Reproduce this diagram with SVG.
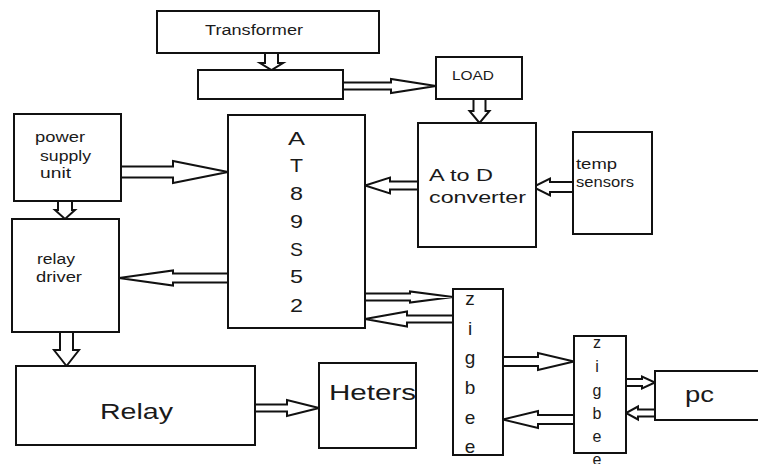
<svg xmlns="http://www.w3.org/2000/svg" width="758" height="464" viewBox="0 0 758 464">
<style>
.box{fill:#fff;stroke:#111;stroke-width:2}
.arr{fill:#fff;stroke:#111;stroke-width:2;stroke-linejoin:miter}
.t{font-family:"Liberation Sans",Arial,sans-serif;fill:#1a1a1a}
.c{text-anchor:middle}
</style>
<rect width="758" height="464" fill="#fff"/>
<g id="connectors">
<polygon class="arr" points="265,53 278,53 278,63 283,63 271.5,70 260,63 265,63"/>
<polygon class="arr" points="343,82.5 391,82.5 391,79 436,86 391,93 391,89.5 343,89.5"/>
<polygon class="arr" points="473.5,99 485.5,99 485.5,111 489.5,111 479.5,123 469.5,111 473.5,111"/>
<polygon class="arr" points="573,182 550,182 550,178.5 533,187 550,195.5 550,192 573,192"/>
<polygon class="arr" points="418,181.5 390,181.5 390,177.5 365,185.5 390,193.5 390,189.5 418,189.5"/>
<polygon class="arr" points="121,166.5 173,166.5 173,161 228,172 173,183 173,177.5 121,177.5"/>
<polygon class="arr" points="58,201 72,201 72,210 75,210 65,219 55,210 58,210"/>
<polygon class="arr" points="228,273.5 173,273.5 173,270.5 119,278 173,285.5 173,282.5 228,282.5"/>
<polygon class="arr" points="60,332 73,332 73,350 79,350 66.5,366 54,350 60,350"/>
<polygon class="arr" points="255,404.5 287,404.5 287,400 319,408 287,416 287,411.5 255,411.5"/>
<polygon class="arr" points="365,293.5 410,293.5 410,291.5 453,297 410,302.5 410,300.5 365,300.5"/>
<polygon class="arr" points="453,315.5 407,315.5 407,311.5 365,319 407,326.5 407,322.5 453,322.5"/>
<polygon class="arr" points="503,357 538,357 538,353 574,361.5 538,370 538,366 503,366"/>
<polygon class="arr" points="574,415 538,415 538,411 503,419.5 538,428 538,424 574,424"/>
<polygon class="arr" points="626,379 642,379 642,376.5 655,382.5 642,388.5 642,386 626,386"/>
<polygon class="arr" points="655,409.5 638,409.5 638,406.5 626,413 638,419.5 638,416.5 655,416.5"/>
</g>
<g id="transformer"><rect class="box" x="157" y="11" width="222" height="42"/><text class="t" x="205" y="35" font-size="14" textLength="98" lengthAdjust="spacingAndGlyphs">Transformer</text></g>
<g id="blank"><rect class="box" x="198" y="70" width="145" height="29"/></g>
<g id="load"><rect class="box" x="436" y="57" width="86" height="42"/><text class="t" x="452" y="80" font-size="12" textLength="42" lengthAdjust="spacingAndGlyphs">LOAD</text></g>
<g id="adc"><rect class="box" x="418" y="123" width="118" height="124"/><text class="t" x="429" y="181" font-size="17" textLength="64" lengthAdjust="spacingAndGlyphs">A to D</text><text class="t" x="429" y="203" font-size="17" textLength="97" lengthAdjust="spacingAndGlyphs">converter</text></g>
<g id="temp"><rect class="box" x="573" y="132" width="79" height="102"/><text class="t" x="576" y="169" font-size="14" textLength="41" lengthAdjust="spacingAndGlyphs">temp</text><text class="t" x="576" y="187" font-size="14" textLength="58" lengthAdjust="spacingAndGlyphs">sensors</text></g>
<g id="mcu"><rect class="box" x="228" y="115" width="137" height="213"/>
<g class="t" font-size="19" lengthAdjust="spacingAndGlyphs"><text x="288" y="145" textLength="17" lengthAdjust="spacingAndGlyphs">A</text><text x="290" y="172" textLength="13" lengthAdjust="spacingAndGlyphs">T</text><text x="290" y="200" textLength="13" lengthAdjust="spacingAndGlyphs">8</text><text x="290" y="228" textLength="13" lengthAdjust="spacingAndGlyphs">9</text><text x="290" y="256" textLength="13" lengthAdjust="spacingAndGlyphs">S</text><text x="290" y="283" textLength="13" lengthAdjust="spacingAndGlyphs">5</text><text x="290" y="312" textLength="13" lengthAdjust="spacingAndGlyphs">2</text></g></g>
<g id="psu"><rect class="box" x="14" y="114" width="107" height="87"/><text class="t" x="35" y="142" font-size="14" textLength="50" lengthAdjust="spacingAndGlyphs">power</text><text class="t" x="40" y="161" font-size="14" textLength="51" lengthAdjust="spacingAndGlyphs">supply</text><text class="t" x="40" y="178" font-size="14" textLength="31" lengthAdjust="spacingAndGlyphs">unit</text></g>
<g id="relaydriver"><rect class="box" x="12" y="219" width="107" height="113"/><text class="t" x="37" y="264" font-size="14" textLength="38" lengthAdjust="spacingAndGlyphs">relay</text><text class="t" x="36" y="282" font-size="14" textLength="46" lengthAdjust="spacingAndGlyphs">driver</text></g>
<g id="relay"><rect class="box" x="16" y="366" width="239" height="79"/><text class="t" x="100" y="419" font-size="22" textLength="73" lengthAdjust="spacingAndGlyphs">Relay</text></g>
<g id="heters"><rect class="box" x="319" y="363" width="97" height="85"/><text class="t" x="329" y="400" font-size="22" textLength="87" lengthAdjust="spacingAndGlyphs">Heters</text></g>
<g id="zigbee1"><rect class="box" x="453" y="289" width="50" height="166"/>
<g class="t c" font-size="19"><text x="470" y="305">z</text><text x="470" y="335">i</text><text x="470" y="364">g</text><text x="470" y="394">b</text><text x="470" y="424">e</text><text x="470" y="453">e</text></g></g>
<g id="zigbee2"><rect class="box" x="574" y="336" width="52" height="117"/>
<g class="t c" font-size="16"><text x="597" y="348">z</text><text x="597" y="372">i</text><text x="597" y="396">g</text><text x="597" y="419">b</text><text x="597" y="442">e</text><text x="597" y="465">e</text></g></g>
<g id="pc"><rect class="box" x="655" y="371" width="110" height="49"/><text class="t" x="685" y="402" font-size="22" textLength="29" lengthAdjust="spacingAndGlyphs">pc</text></g>
</svg>
